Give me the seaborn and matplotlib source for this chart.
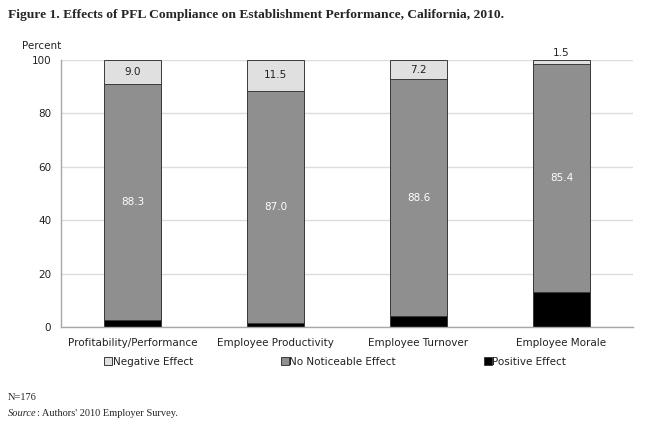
import pandas as pd
import matplotlib
matplotlib.use('Agg')
import matplotlib.pyplot as plt
import seaborn as sns
from matplotlib.lines import Line2D

# Survey shares (percent) by effect type
categories = ['Profitability/Performance', 'Employee Productivity', 'Employee Turnover', 'Employee Morale']
negative = [9.0, 11.5, 7.2, 1.5]
no_effect = [88.3, 87.0, 88.6, 85.4]
positive = [2.7, 1.5, 4.2, 13.1]
y_ticks = [0, 20, 40, 60, 80, 100]

df = pd.DataFrame({'category': categories, 'negative': negative,
                   'no_effect': no_effect, 'positive': positive})
df['mid'] = df['positive'] + df['no_effect']
df['top'] = df['mid'] + df['negative']

sns.set_style('white')
plt.rcParams['font.family'] = ['DejaVu Sans']

c_neg, c_mid, c_pos = '#e0e0e0', '#8f8f8f', '#000000'
edge = '#3a3a3a'

fig = plt.figure(figsize=(6.62, 4.26), dpi=100)
ax = fig.add_axes([0.092, 0.232, 0.864, 0.627])

# stacked bars by overlaying cumulative totals
for col, color in [('top', c_neg), ('mid', c_mid), ('positive', c_pos)]:
    sns.barplot(data=df, x='category', y=col, color=color, saturation=1,
                width=0.4, edgecolor=edge, linewidth=0.7, ax=ax)

# value labels
for i in range(len(categories)):
    mid_y = positive[i] + no_effect[i] / 2
    ax.text(i, mid_y, f'{no_effect[i]:.1f}', ha='center', va='center',
            color='white', fontsize=7.5)
    if negative[i] > 5:
        ax.text(i, df['mid'][i] + negative[i] / 2, f'{negative[i]:.1f}',
                ha='center', va='center', color='#222222', fontsize=7.5)
    else:
        ax.text(i, 102.8, f'{negative[i]:.1f}', ha='center', va='center',
                color='#222222', fontsize=7.5)

ax.set_ylim(0, 100)
ax.set_xlim(-0.5, len(categories) - 0.5)
ax.set_yticks(y_ticks)
ax.set_xlabel('')
ax.set_ylabel('')
ax.yaxis.grid(True, color='#dcdcdc', linewidth=1)
ax.set_axisbelow(True)
for s in ['top', 'right']:
    ax.spines[s].set_visible(False)
for s in ['left', 'bottom']:
    ax.spines[s].set_color('#a8a8a8')
    ax.spines[s].set_linewidth(1)
ax.tick_params(axis='y', length=3, color='#a8a8a8', labelsize=7.5, pad=4, labelcolor='#222222')
ax.tick_params(axis='x', which='major', length=0, labelsize=7.5, pad=8, labelcolor='#222222')
ax.set_xticks([x - 0.5 for x in range(len(categories) + 1)], minor=True)
ax.tick_params(axis='x', which='minor', length=4, color='#a8a8a8')

handles = [Line2D([], [], marker='s', linestyle='none', markersize=5.5,
                  markerfacecolor=c, markeredgecolor=edge, markeredgewidth=0.7)
           for c in (c_neg, c_mid, c_pos)]
fig.legend(handles, ['Negative Effect', 'No Noticeable Effect', 'Positive Effect'],
           loc='center', bbox_to_anchor=(0.507, 0.151), ncol=3, frameon=False,
           fontsize=7.5, handlelength=0.6, handletextpad=0.15, columnspacing=8.5,
           labelcolor='#222222')

fig.text(8 / 662, 1 - 15 / 426,
         'Figure 1. Effects of PFL Compliance on Establishment Performance, California, 2010.',
         fontfamily='Liberation Serif', fontweight='bold', fontsize=9.7, va='center')
fig.text(22 / 662, 1 - 46 / 426, 'Percent', fontsize=7.5, va='center', color='#222222')
fig.text(8 / 662, 1 - 397 / 426, 'N=176', fontfamily='Liberation Serif', fontsize=7.5, va='center')
src = fig.text(8 / 662, 1 - 416 / 426, 'Source', fontfamily='Liberation Serif',
               fontstyle='italic', fontsize=7.5, va='baseline')
ax.annotate(": Authors' 2010 Employer Survey.", xy=(1, 0), xycoords=src,
            va='bottom', ha='left', fontfamily='Liberation Serif', fontsize=7.5,
            annotation_clip=False)

fig.savefig('out.png', dpi=100)
